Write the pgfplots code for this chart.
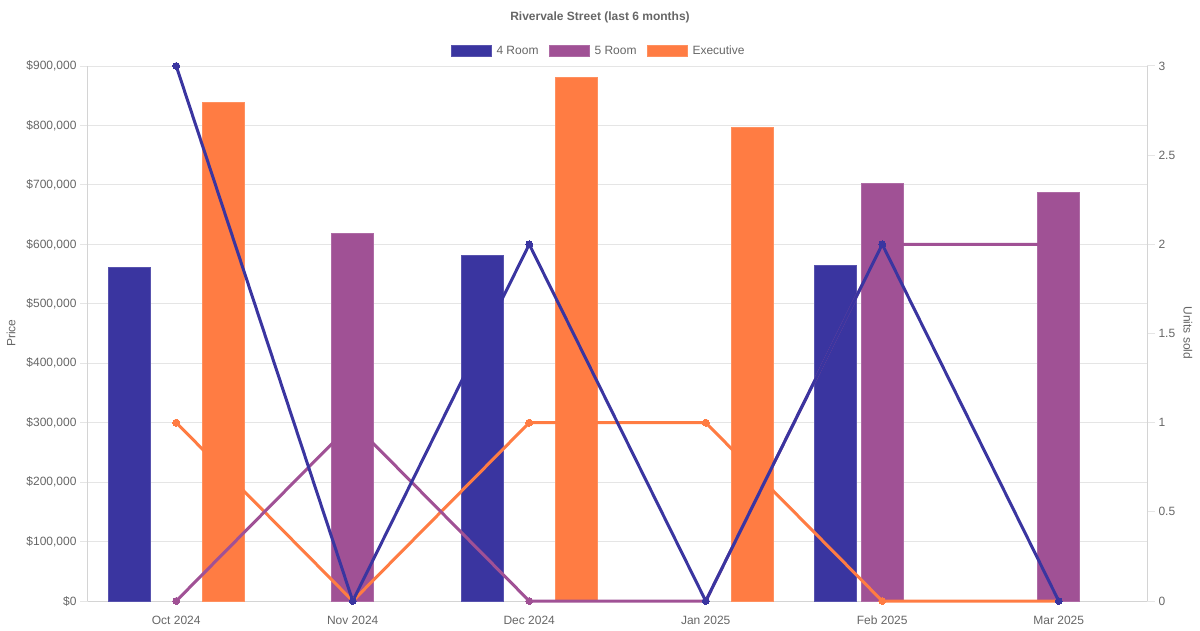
\documentclass[border=0pt]{standalone}
\usepackage{fontspec}
\setmainfont{Liberation Sans}
\usepackage{pgfplots}
\pgfplotsset{compat=1.18}
\definecolor{cfour}{RGB}{58,53,160}
\definecolor{cfive}{RGB}{160,81,149}
\definecolor{cexec}{RGB}{255,124,67}
\definecolor{txt}{RGB}{102,102,102}
\definecolor{gridc}{RGB}{229,229,229}
\definecolor{axc}{RGB}{212,212,212}
\pgfplotsset{
  barleg/.style={legend image code/.code={\draw[##1, line width=1pt] (0pt,-5.5pt) rectangle (40pt,5.5pt);}},
  base/.style={
    scale only axis, width=1059pt, height=535pt,
    at={(88pt,29pt)}, anchor=south west,
    xmin=-0.5, xmax=5.5,
    font=\fontsize{12}{14}\selectfont,
    ticklabel style={text=txt, font=\fontsize{12}{14}\selectfont},
    axis line style={draw=axc, line width=1pt},
    tick align=outside, major tick length=8pt,
    y tick style={draw=gridc, line width=1pt},
    x tick style={draw=none},
    scaled y ticks=false,
  }
}
\begin{document}
\begin{tikzpicture}[x=1pt,y=1pt]
\useasboundingbox (0,0) rectangle (1200,630);
\begin{axis}[base,
  ymin=0, ymax=900000,
  axis x line*=bottom, axis y line*=left,
  ymajorgrids, grid style={draw=gridc, line width=1pt},
  ytick={0,100000,200000,300000,400000,500000,600000,700000,800000,900000},
  yticklabels={\$0,{\$100,000},{\$200,000},{\$300,000},{\$400,000},{\$500,000},{\$600,000},{\$700,000},{\$800,000},{\$900,000}},
  xtick={0,1,2,3,4,5},
  xticklabels={Oct 2024,Nov 2024,Dec 2024,Jan 2025,Feb 2025,Mar 2025},
  xticklabel style={text height=9pt, text depth=3pt, yshift=-3pt},
  legend columns=3,
  legend style={at={(0.4835,1.028)}, anchor=center, draw=none, fill=none,
    font=\fontsize{12}{14}\selectfont, text=txt,
    nodes={inner xsep=5pt},
    /tikz/every even column/.append style={column sep=5pt}},
]
\addplot[ybar, bar width=42pt, bar shift=-47pt, fill=cfour, draw=cfour!85!white, line width=1pt, barleg]
  coordinates {(0,561000) (2,581000) (4,565000)};
\addlegendentry{4 Room}
\addplot[ybar, bar width=42pt, bar shift=0pt, fill=cfive, draw=cfive!85!white, line width=1pt, barleg]
  coordinates {(1,619000) (4,703000) (5,687000)};
\addlegendentry{5 Room}
\addplot[ybar, bar width=42pt, bar shift=47pt, fill=cexec, draw=cexec!85!white, line width=1pt, barleg]
  coordinates {(0,839000) (2,880000) (3,797000)};
\addlegendentry{Executive}
\end{axis}
\begin{axis}[base,
  ymin=0, ymax=3,
  axis y line*=right, axis x line=none,
  ytick={0,0.5,1,1.5,2,2.5,3},
  yticklabels={0,0.5,1,1.5,2,2.5,3},
  clip=false,
]
\addplot[cexec, line width=3pt, mark=*, mark size=3.5pt, mark options={solid, fill=cexec, draw=cexec, line width=0pt}]
  coordinates {(0,1) (1,0) (2,1) (3,1) (4,0) (5,0)};
\addplot[cfive, line width=3pt, mark=*, mark size=3.5pt, mark options={solid, fill=cfive, draw=cfive, line width=0pt}]
  coordinates {(0,0) (1,1) (2,0) (3,0) (4,2) (5,2)};
\addplot[cfour, line width=3pt, mark=*, mark size=3.5pt, mark options={solid, fill=cfour, draw=cfour, line width=0pt}]
  coordinates {(0,3) (1,0) (2,2) (3,0) (4,2) (5,0)};
\end{axis}
\node[font=\bfseries\fontsize{12}{14}\selectfont, text=txt] at (600,613) {Rivervale Street (last 6 months)};
\node[rotate=90, font=\fontsize{12}{14}\selectfont, text=txt] at (11,297) {Price};
\node[rotate=-90, font=\fontsize{12}{14}\selectfont, text=txt] at (1188,297) {Units sold};
\end{tikzpicture}
\end{document}
